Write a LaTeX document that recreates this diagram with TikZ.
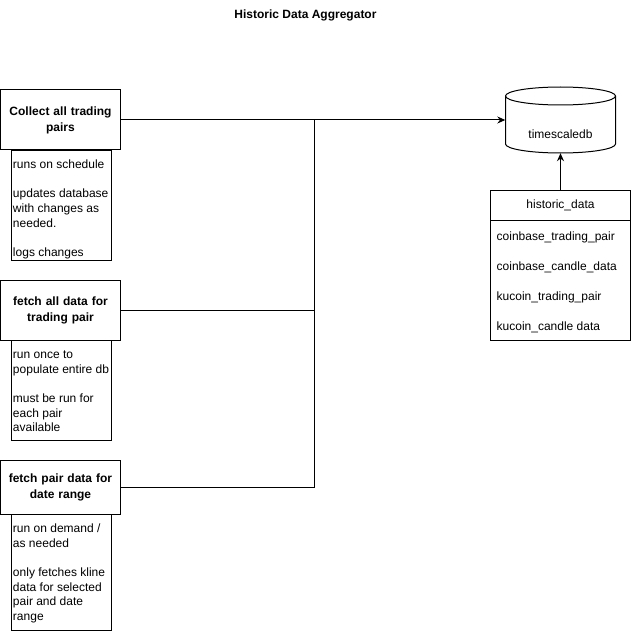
\documentclass[tikz,border=0pt]{standalone}
\usepackage{fontspec}
\setmainfont{Liberation Sans}
\usetikzlibrary{arrows.meta}
\newcommand{\desctext}[2]{\parbox[t][#1][t]{96pt}{\raggedright\fontsize{12}{14.6}\selectfont\vspace*{3pt}\strut #2}}
\tikzset{
  mainbox/.style={draw, line width=1pt, minimum width=120pt, inner sep=2pt, align=center, text width=112pt, font=\fontsize{12}{16}\selectfont\bfseries},
  descbox/.style={draw, line width=1pt, anchor=north west, inner xsep=2pt, inner ysep=5pt},
  conn/.style={line width=1pt},
  arr/.style={line width=1pt, -{Stealth[length=8pt,width=7pt]}},
  rowtext/.style={anchor=west, font=\fontsize{12}{14}\selectfont, inner sep=0pt},
}
\begin{document}
\begin{tikzpicture}[x=1pt,y=-1pt]
\useasboundingbox (-0.5,0) rectangle (630.5,631);
% title
\node[font=\fontsize{12}{14}\selectfont\bfseries] (title) at (305,15) {Historic Data Aggregator};
% main boxes
\node[mainbox, minimum height=60pt] (b1) at (60,120) {Collect all trading\\pairs};
\node[mainbox, minimum height=60pt] (b2) at (60,310) {fetch all data for\\trading pair};
\node[mainbox, minimum height=54pt] (b3) at (60,487) {fetch pair data for\\date range};
% description boxes
\node[descbox] (d1) at (10,150) {\desctext{100pt}{runs on schedule\\[14.6pt]updates database\\with changes as\\needed.\\[14.6pt]logs changes}};
\node[descbox] (d2) at (10,340) {\desctext{90pt}{run once to\\populate entire db\\[14.6pt]must be run for\\each pair\\available}};
\node[descbox] (d3) at (10,514) {\desctext{106pt}{run on demand /\\as needed\\[14.6pt]only fetches kline\\data for selected\\pair and date\\range}};
% database cylinder
\node[minimum width=110pt, minimum height=66pt, inner sep=0pt] (db) at (560,120) {};
\draw[line width=1pt, fill=white] (505,96)
  -- (505,144) arc[start angle=180, end angle=360, x radius=55pt, y radius=9pt]
  -- (615,96);
\draw[line width=1pt] (505,96) arc[start angle=180, end angle=-180, x radius=55pt, y radius=9pt];
\node[font=\fontsize{12}{14}\selectfont] (dblabel) at (560,134) {timescaledb};
% historic_data table
\node[draw, line width=1pt, anchor=north, minimum width=140pt, minimum height=150pt, inner sep=0pt] (tb) at (560,190) {};
\node[minimum width=140pt, minimum height=30pt, inner sep=0pt, font=\fontsize{12}{14}\selectfont] (th) at (560,205) {historic\_data};
\draw[line width=1pt] (th.south west) -- (th.south east);
\node[rowtext] (r1) at (496,237) {coinbase\_trading\_pair};
\node[rowtext] (r2) at (496,267) {coinbase\_candle\_data};
\node[rowtext] (r3) at (496,297) {kucoin\_trading\_pair};
\node[rowtext] (r4) at (496,327) {kucoin\_candle data};
% connectors
\coordinate (j) at (314,120);
\draw[conn] (b2.east) -| (j);
\draw[conn] (b3.east) -| (j);
\draw[arr] (b1.east) -- (db.west);
\draw[arr] (tb.north) -- (db.south);
\end{tikzpicture}
\end{document}
